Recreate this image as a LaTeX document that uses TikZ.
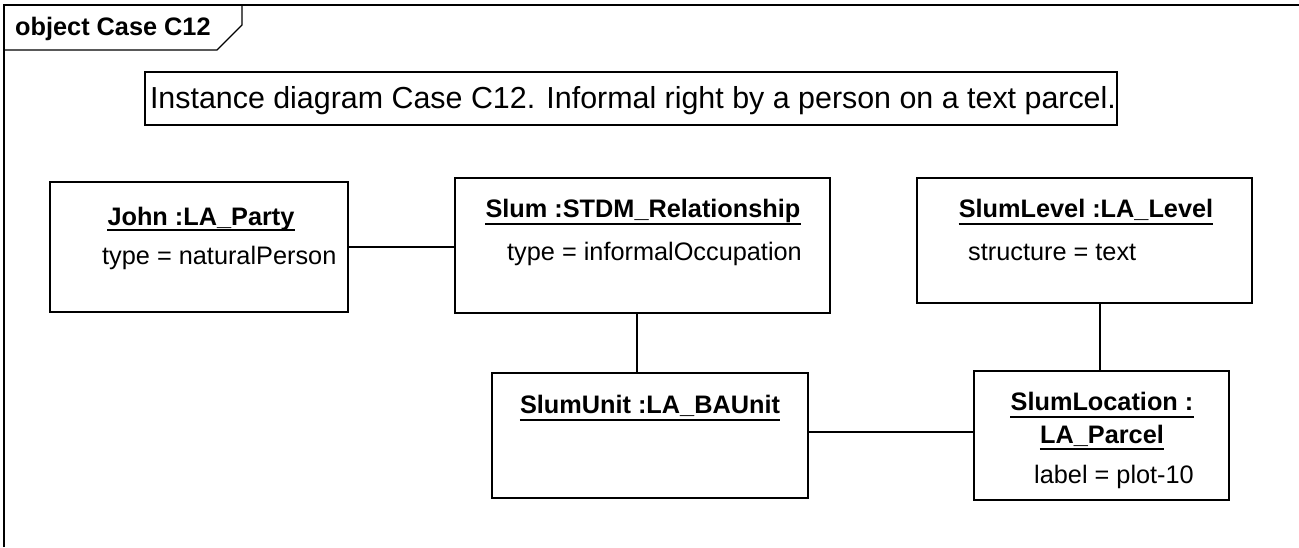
\documentclass[tikz,border=0pt]{standalone}
\usepackage{fontspec}
\setmainfont{Liberation Sans}
\begin{document}
\begin{tikzpicture}[x=1pt,y=-1pt,
  objbox/.style={draw,line width=1.6pt,rectangle,inner sep=0pt},
  ttl/.style={font=\fontsize{25.3}{28}\selectfont\bfseries,inner sep=0pt,anchor=base},
  attr/.style={font=\fontsize{25.3}{28}\selectfont,inner sep=0pt,anchor=base west},
  uline/.style={line width=1.6pt},
  conn/.style={line width=1.4pt}]
\useasboundingbox (0,0) rectangle (1299,547);
% frame
\draw[line width=1.6pt] (4,547) -- (4,5) -- (1299,5);
\draw[line width=1.2pt] (4,50) -- (217,50) -- (242,25) -- (242,5);
\node[font=\fontsize{25.3}{28}\selectfont\bfseries,inner sep=0pt,anchor=base west] (frm) at (15,35) {object Case C12};
% note
\node[draw,line width=1.4pt,minimum width=972pt,minimum height=53pt,inner sep=0pt] (note) at (631,98.5) {};
\node[font=\fontsize{30.4}{34}\selectfont,inner sep=0pt,anchor=base] (notet) at (633,108) {Instance diagram Case C12. Informal right by a person on a text parcel.};
% boxes
\node[objbox,minimum width=298pt,minimum height=130pt] (john) at (199,247) {};
\node[objbox,minimum width=375pt,minimum height=135pt] (slum) at (642.5,245.5) {};
\node[objbox,minimum width=335pt,minimum height=125pt] (level) at (1084.5,240.5) {};
\node[objbox,minimum width=316pt,minimum height=125pt] (unit) at (650,435.5) {};
\node[objbox,minimum width=255pt,minimum height=129pt] (loc) at (1101.5,435.5) {};
% texts
\node[ttl] (johnt) at (201,225) {John :LA\_Party};
\draw[uline] ([yshift=-5pt]johnt.base west) -- ([yshift=-5pt]johnt.base east);
\node[attr] (johna) at (102,264) {type = naturalPerson};

\node[ttl] (slumt) at (643,217) {Slum :STDM\_Relationship};
\draw[uline] ([yshift=-7pt]slumt.base west) -- ([yshift=-7pt]slumt.base east);
\node[attr] (sluma) at (507,260) {type = informalOccupation};

\node[ttl] (levelt) at (1086,217) {SlumLevel :LA\_Level};
\draw[uline] ([yshift=-7pt]levelt.base west) -- ([yshift=-7pt]levelt.base east);
\node[attr] (levela) at (968,260) {structure = text};

\node[ttl] (unitt) at (650,413) {SlumUnit :LA\_BAUnit};
\draw[uline] ([yshift=-7pt]unitt.base west) -- ([yshift=-7pt]unitt.base east);

\node[ttl] (loct1) at (1102,410) {SlumLocation :};
\draw[uline] ([yshift=-7pt]loct1.base west) -- ([yshift=-7pt]loct1.base east);
\node[ttl] (loct2) at (1102,443) {LA\_Parcel};
\draw[uline] ([yshift=-6pt]loct2.base west) -- ([yshift=-6pt]loct2.base east);
\node[font=\fontsize{25.3}{28}\selectfont,inner sep=0pt,anchor=base] (loca) at (1114,483) {label = plot-10};
% connectors
\coordinate (cv1) at (637,0);
\coordinate (cv2) at (1100,0);
\coordinate (ch1) at (0,432);
\draw[conn] (john.east) -- (john.east -| slum.west);
\draw[conn] (slum.south -| cv1) -- (unit.north -| cv1);
\draw[conn] (level.south -| cv2) -- (loc.north -| cv2);
\draw[conn] (unit.east |- ch1) -- (loc.west |- ch1);
\end{tikzpicture}
\end{document}
